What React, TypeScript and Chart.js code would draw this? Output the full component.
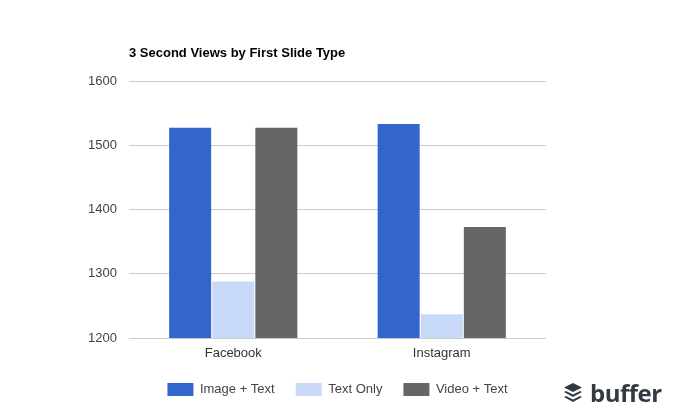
import React, { useEffect, useRef } from "react";
import { Chart, registerables } from "chart.js";

Chart.register(...registerables);

const categories = ["Facebook", "Instagram"];
const imageText = [1528, 1534];
const textOnly = [1288, 1237];
const videoText = [1528, 1373];
const yTicks = [1200, 1300, 1400, 1500, 1600];
const FONT = '"Liberation Sans", Arial, sans-serif';

export default function App() {
  const ref = useRef<HTMLCanvasElement | null>(null);
  useEffect(() => {
    if (!ref.current) return;
    const chart = new Chart(ref.current, {
      type: "bar",
      data: {
        labels: categories,
        datasets: [
          { label: "Image + Text", data: imageText, backgroundColor: "#3366cc" },
          { label: "Text Only", data: textOnly, backgroundColor: "#c9daf8" },
          { label: "Video + Text", data: videoText, backgroundColor: "#666666" },
        ],
      },
      options: {
        responsive: false,
        animation: false,
        layout: { padding: { left: 0, right: 0, top: 0, bottom: 11 } },
        datasets: { bar: { categoryPercentage: 0.62, barPercentage: 0.975 } },
        plugins: {
          tooltip: { enabled: false },
          title: {
            display: true,
            text: "3 Second Views by First Slide Type",
            align: "start",
            fullSize: false,
            color: "#000000",
            font: { family: FONT, size: 13, weight: "bold" },
            padding: { top: 46, bottom: 20 },
          },
          legend: {
            position: "bottom",
            labels: {
              boxWidth: 26,
              boxHeight: 13,
              padding: 21,
              color: "#444444",
              font: { family: FONT, size: 13 },
            },
          },
        },
        scales: {
          x: {
            grid: { display: false, drawTicks: false },
            border: { display: false },
            afterFit: (s: any) => {
              s.height = 24;
            },
            ticks: { color: "#333333", font: { family: FONT, size: 13 }, padding: 8, maxRotation: 0 },
          },
          y: {
            min: 1200,
            max: 1600,
            afterFit: (s: any) => {
              s.width = 129;
            },
            afterBuildTicks: (s: any) => {
              s.ticks = yTicks.map((value) => ({ value }));
            },
            grid: { color: "#cccccc", drawTicks: false },
            border: { display: false },
            ticks: {
              color: "#444444",
              font: { family: FONT, size: 13 },
              padding: 12,
              callback: (v: any) => String(v),
            },
          },
          spacer: {
            position: "right",
            min: 0,
            max: 1,
            afterFit: (s: any) => {
              s.width = 129;
            },
            grid: { display: false, drawTicks: false },
            border: { display: false },
            ticks: { display: false },
          },
        },
      } as any,
    });
    return () => chart.destroy();
  }, []);

  return (
    <div style={{ position: "fixed", left: 0, top: 0, width: 675, height: 417, background: "#fff", overflow: "hidden" }}>
      <canvas ref={ref} width={675} height={417} style={{ display: "block" }} />
      <svg width="20" height="20" viewBox="0 0 20 20" style={{ position: "absolute", left: 563, top: 383 }}>
        <path d="M10 0 L19 4.5 L10 9 L1 4.5 Z" fill="#323b43" />
        <path d="M1 9 L3 8 L10 11.5 L17 8 L19 9 L10 14 Z" fill="#323b43" />
        <path d="M1 14 L3 13 L10 16.5 L17 13 L19 14 L10 19 Z" fill="#323b43" />
      </svg>
      <div
        style={{
          position: "absolute",
          left: 590,
          top: 376,
          fontFamily: '"Open Sans", sans-serif',
          fontWeight: 700,
          fontSize: 24,
          lineHeight: "34px",
          letterSpacing: -0.5,
          color: "#323b43",
        }}
      >
        buffer
      </div>
    </div>
  );
}
